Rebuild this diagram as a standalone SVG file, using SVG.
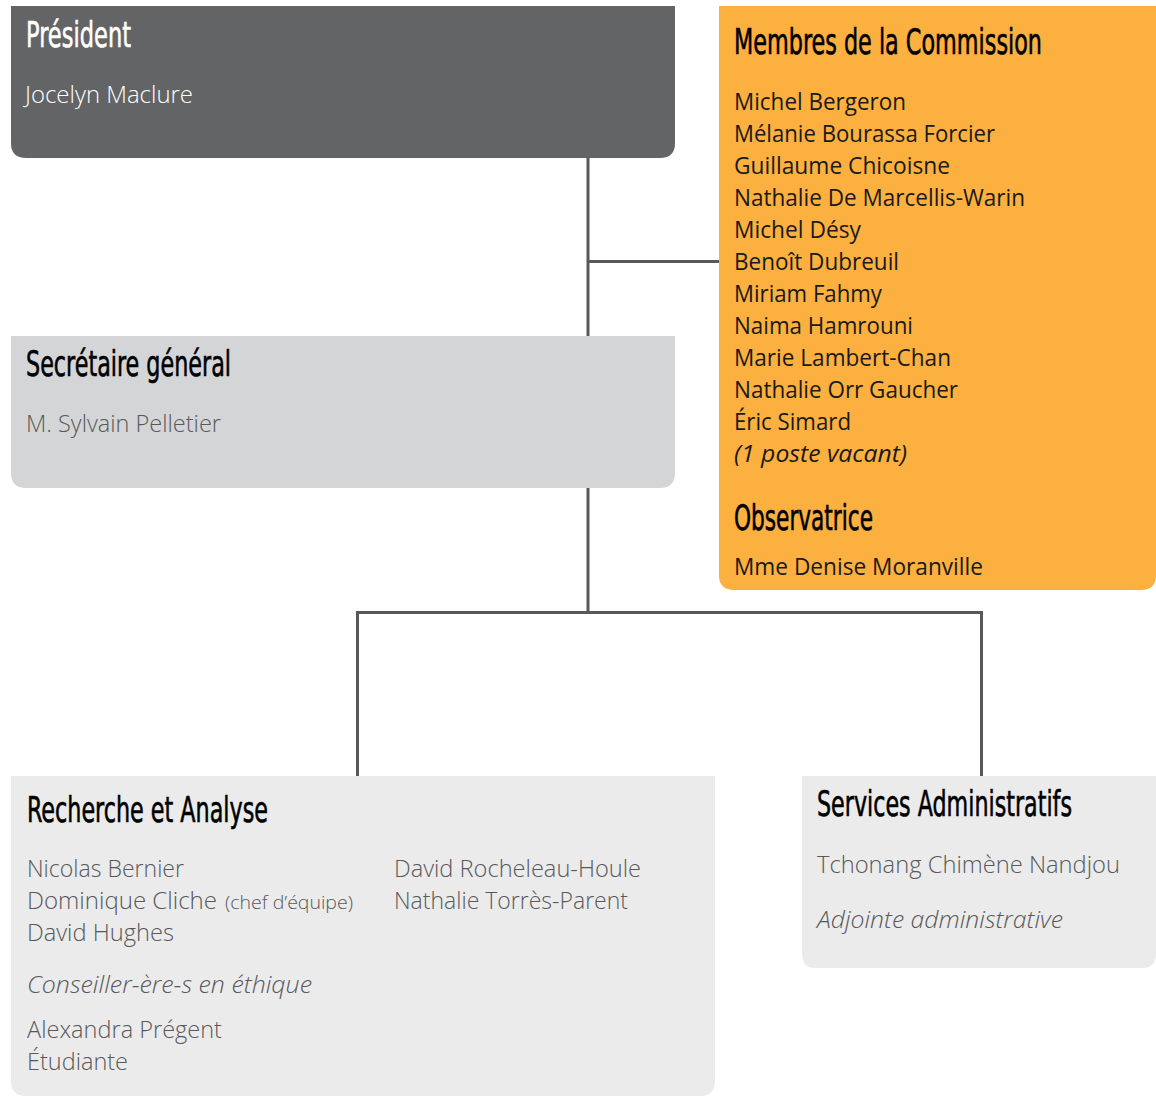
<svg xmlns="http://www.w3.org/2000/svg" width="1156" height="1097" viewBox="0 0 1156 1097">
<style>
.h{font-family:"Liberation Sans Narrow","DejaVu Sans Condensed","Liberation Sans",sans-serif;font-size:36px;fill:#000;stroke:#000;stroke-width:0.6px}
.b{font-family:"Open Sans","Noto Sans","Liberation Sans",sans-serif;font-size:23px;font-weight:300;fill:#58595b}
.o{fill:#1a1a1a;font-weight:400}
.w{fill:#ffffff}
.h.w{stroke:#ffffff}
.i{font-style:italic}
.s{font-size:19px}
.ln{stroke:#58595b;stroke-width:3;fill:none}
</style>
<rect width="1156" height="1097" fill="#ffffff"/>
<g id="connectors">
<path class="ln" d="M588,158 V336 M588,261.5 H719 M588,488 V612.5 M357.5,776 V612.5 H981.5 V776"/>
</g>
<g id="president">
<path d="M11,6 H675 V143 Q675,158 660,158 H26 Q11,158 11,143 Z" fill="#636466"/>
<text class="h w" x="26" y="47" textLength="105" lengthAdjust="spacingAndGlyphs">Président</text>
<text class="b w" x="25" y="103" textLength="168" lengthAdjust="spacingAndGlyphs">Jocelyn Maclure</text>
</g>
<g id="commission">
<path d="M719,6 H1156 V575 Q1156,590 1141,590 H734 Q719,590 719,575 Z" fill="#fbb040"/>
<text class="h" x="734" y="54" textLength="308" lengthAdjust="spacingAndGlyphs">Membres de la Commission</text>
<text class="b o" x="734" y="110" textLength="172" lengthAdjust="spacingAndGlyphs">Michel Bergeron</text>
<text class="b o" x="734" y="142" textLength="261" lengthAdjust="spacingAndGlyphs">Mélanie Bourassa Forcier</text>
<text class="b o" x="734" y="174" textLength="216" lengthAdjust="spacingAndGlyphs">Guillaume Chicoisne</text>
<text class="b o" x="734" y="206" textLength="291" lengthAdjust="spacingAndGlyphs">Nathalie De Marcellis-Warin</text>
<text class="b o" x="734" y="238" textLength="127" lengthAdjust="spacingAndGlyphs">Michel Désy</text>
<text class="b o" x="734" y="270" textLength="165" lengthAdjust="spacingAndGlyphs">Benoît Dubreuil</text>
<text class="b o" x="734" y="302" textLength="148" lengthAdjust="spacingAndGlyphs">Miriam Fahmy</text>
<text class="b o" x="734" y="334" textLength="179" lengthAdjust="spacingAndGlyphs">Naima Hamrouni</text>
<text class="b o" x="734" y="366" textLength="217" lengthAdjust="spacingAndGlyphs">Marie Lambert-Chan</text>
<text class="b o" x="734" y="398" textLength="224" lengthAdjust="spacingAndGlyphs">Nathalie Orr Gaucher</text>
<text class="b o" x="734" y="430" textLength="117" lengthAdjust="spacingAndGlyphs">Éric Simard</text>
<text class="b o i" x="734" y="462" textLength="173" lengthAdjust="spacingAndGlyphs">(1 poste vacant)</text>
<text class="h" x="734" y="530" textLength="139" lengthAdjust="spacingAndGlyphs">Observatrice</text>
<text class="b o" x="734" y="575" textLength="249" lengthAdjust="spacingAndGlyphs">Mme Denise Moranville</text>
</g>
<g id="secretaire">
<path d="M11,336 H675 V473 Q675,488 660,488 H26 Q11,488 11,473 Z" fill="#d4d5d7"/>
<text class="h" x="26" y="376" textLength="205" lengthAdjust="spacingAndGlyphs">Secrétaire général</text>
<text class="b" x="26" y="432" textLength="195" lengthAdjust="spacingAndGlyphs">M. Sylvain Pelletier</text>
</g>
<g id="recherche">
<path d="M11,776 H715 V1081 Q715,1096 700,1096 H26 Q11,1096 11,1081 Z" fill="#ebebeb"/>
<text class="h" x="27" y="822" textLength="241" lengthAdjust="spacingAndGlyphs">Recherche et Analyse</text>
<text class="b" x="27" y="877" textLength="157" lengthAdjust="spacingAndGlyphs">Nicolas Bernier</text>
<text class="b" x="27" y="909" textLength="190" lengthAdjust="spacingAndGlyphs">Dominique Cliche</text>
<text class="b s" x="225" y="909" textLength="128" lengthAdjust="spacingAndGlyphs">(chef d’équipe)</text>
<text class="b" x="27" y="941" textLength="147" lengthAdjust="spacingAndGlyphs">David Hughes</text>
<text class="b" x="394" y="877" textLength="247" lengthAdjust="spacingAndGlyphs">David Rocheleau-Houle</text>
<text class="b" x="394" y="909" textLength="234" lengthAdjust="spacingAndGlyphs">Nathalie Torrès-Parent</text>
<text class="b i" x="27" y="993" textLength="285" lengthAdjust="spacingAndGlyphs">Conseiller-ère-s en éthique</text>
<text class="b" x="27" y="1038" textLength="195" lengthAdjust="spacingAndGlyphs">Alexandra Prégent</text>
<text class="b" x="27" y="1070" textLength="101" lengthAdjust="spacingAndGlyphs">Étudiante</text>
</g>
<g id="services">
<path d="M802,776 H1156 V954 Q1156,968 1142,968 H816 Q802,968 802,954 Z" fill="#ebebeb"/>
<text class="h" x="817" y="816" textLength="255" lengthAdjust="spacingAndGlyphs">Services Administratifs</text>
<text class="b" x="817" y="873" textLength="303" lengthAdjust="spacingAndGlyphs">Tchonang Chimène Nandjou</text>
<text class="b i" x="817" y="928" textLength="246" lengthAdjust="spacingAndGlyphs">Adjointe administrative</text>
</g>
</svg>
